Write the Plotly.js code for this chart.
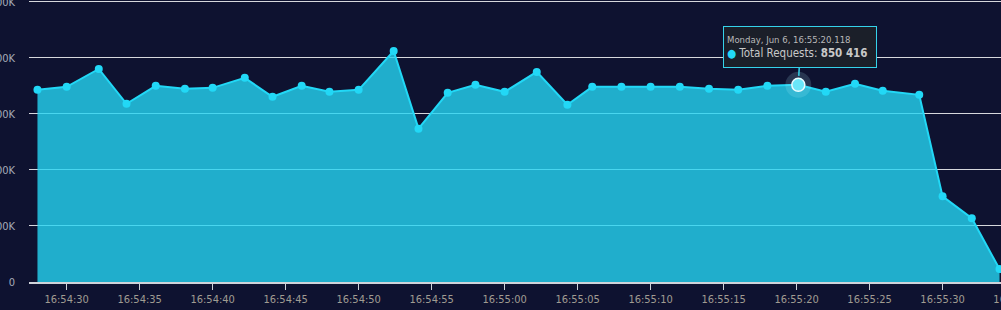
<!DOCTYPE html>
<html>
<head>
<meta charset="utf-8">
<script src="https://cdn.plot.ly/plotly-3.0.1.min.js"></script>
<style>
html,body{margin:0;padding:0;background:#0e1230;overflow:hidden;}
#chart{width:1022px;height:310px;}
</style>
</head>
<body>
<div id="chart"></div>
<script>
const DAY = "2022-06-06 ";
const times = ["16:54:28.0","16:54:30.0","16:54:32.2","16:54:34.1","16:54:36.1","16:54:38.1","16:54:40.0","16:54:42.2","16:54:44.1","16:54:46.1","16:54:48.0","16:54:50.0","16:54:52.4","16:54:54.1","16:54:56.1","16:54:58.0","16:55:00.0","16:55:02.2","16:55:04.3","16:55:06.0","16:55:08.0","16:55:10.0","16:55:12.0","16:55:14.0","16:55:16.0","16:55:18.0","16:55:20.118","16:55:22.0","16:55:24.0","16:55:25.9","16:55:28.4","16:55:30.0","16:55:32.0","16:55:33.9"];
const totalRequests = [685600,696200,760100,635800,699700,689100,692600,728200,660700,699700,678400,685600,824100,547000,674900,703300,678400,749500,632300,696200,696200,696200,696200,689100,685600,699700,703300,678400,706900,682000,667800,305500,227300,46200];
const yTickVals = [0,200000,400000,600000,800000,1000000];
const yTickText = ["0","200K","400K","600K","800K","1000K"];
const hoverIndex = 26;
const tooltipDate = "Monday, Jun 6, 16:55:20.118";
const tooltipLabel = "Total Requests";
const tooltipValue = "850 416";

const xs = times.map(t => DAY + t);
const FONT = "'Liberation Sans Narrow', 'DejaVu Sans Condensed', 'Roboto', sans-serif";

const traces = [
  {
    x: xs, y: totalRequests, type: "scatter", mode: "lines+markers",
    fill: "tozeroy", fillcolor: "rgba(38,214,244,0.80)",
    line: {color: "#22d8f6", width: 2},
    marker: {color: "#22d8f6", size: 8},
    hoverinfo: "skip", showlegend: false, cliponaxis: false
  },
  {
    x: [xs[hoverIndex]], y: [totalRequests[hoverIndex]], type: "scatter", mode: "markers",
    marker: {color: "rgba(180,240,255,0.16)", size: 26},
    hoverinfo: "skip", showlegend: false
  },
  {
    x: [xs[hoverIndex]], y: [totalRequests[hoverIndex]], type: "scatter", mode: "markers",
    marker: {color: "#6ae6f8", size: 13, line: {color: "#e8fbff", width: 1.5}},
    hoverinfo: "skip", showlegend: false
  }
];

const layout = {
  width: 1022, height: 310,
  margin: {l: 29, r: 0, t: 0, b: 28},
  paper_bgcolor: "#0e1230", plot_bgcolor: "#0e1230",
  font: {family: FONT, color: "#a7abb6", size: 11},
  xaxis: {
    type: "date",
    range: [DAY + "16:54:27.42", DAY + "16:55:35.44"],
    tick0: DAY + "16:54:30", dtick: 5000, tickformat: "%H:%M:%S",
    showgrid: false, zeroline: false,
    showline: true, linecolor: "#cfd3da", linewidth: 1.5,
    ticks: "outside", ticklen: 6, tickcolor: "#cfd3da", tickwidth: 1,
    ticklabeloverflow: "allow",
    tickfont: {family: FONT, color: "#a09c92", size: 11}
  },
  yaxis: {
    range: [0, 1006000],
    tickmode: "array", tickvals: yTickVals, ticktext: yTickText,
    showgrid: true, gridcolor: "#d6d8dc", gridwidth: 1,
    zeroline: false, showline: false,
    ticklabelstandoff: 13, ticklabeloverflow: "allow",
    tickfont: {family: FONT, color: "#a7abb8", size: 11}
  },
  annotations: [{
    x: xs[hoverIndex], y: totalRequests[hoverIndex], xref: "x", yref: "y",
    showarrow: true, arrowhead: 0, arrowwidth: 1.5, arrowcolor: "#35d2ea",
    ax: 2, ay: -38, standoff: 9,
    text: "<span style='font-size:9.5px;color:#b9b9b9'>" + tooltipDate + "</span><br>" +
          "<span style='color:#22d8f6'>●</span> " + tooltipLabel + ": <b>" + tooltipValue + "</b>",
    align: "left",
    font: {family: FONT, color: "#c8c8c8", size: 11.5},
    bgcolor: "#1b1f29", bordercolor: "#35d2ea", borderwidth: 1, borderpad: 3,
    width: 146, height: 34
  }]
};

Plotly.newPlot("chart", traces, layout, {displayModeBar: false, staticPlot: true});
</script>
</body>
</html>
